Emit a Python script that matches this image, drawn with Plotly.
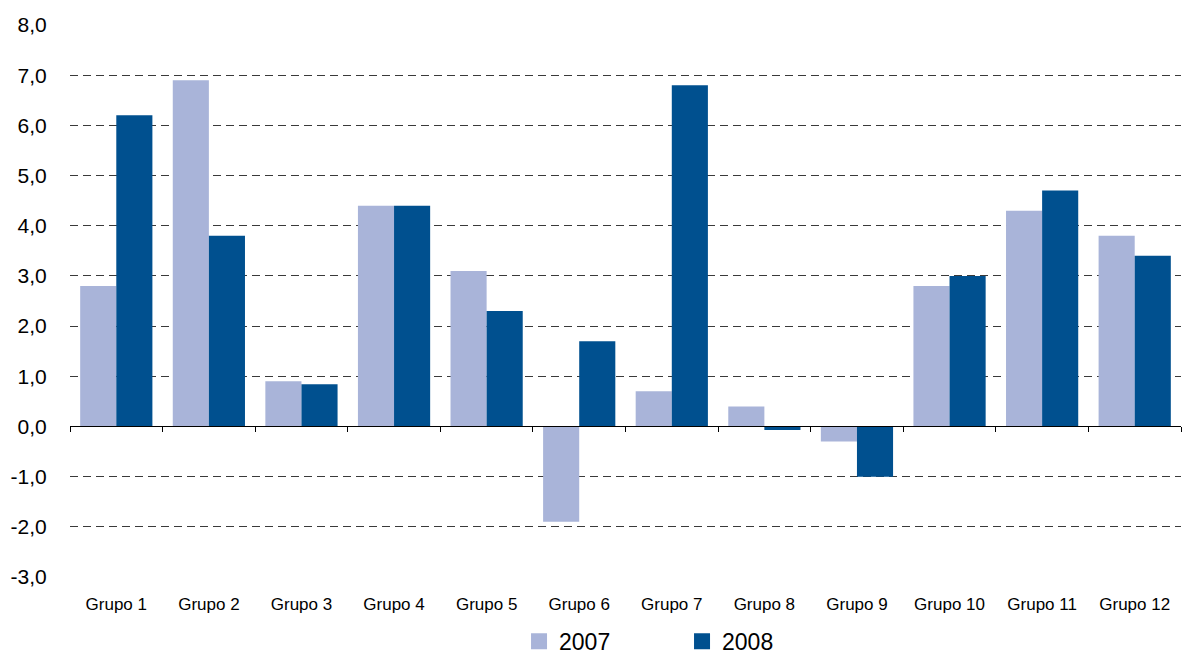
import plotly.graph_objects as go

categories = ["Grupo 1", "Grupo 2", "Grupo 3", "Grupo 4", "Grupo 5", "Grupo 6",
              "Grupo 7", "Grupo 8", "Grupo 9", "Grupo 10", "Grupo 11", "Grupo 12"]
values_2007 = [2.8, 6.9, 0.9, 4.4, 3.1, -1.9, 0.7, 0.4, -0.3, 2.8, 4.3, 3.8]
values_2008 = [6.2, 3.8, 0.84, 4.4, 2.3, 1.7, 6.8, -0.07, -1.0, 3.0, 4.7, 3.4]
grid_vals = [-2, -1, 0, 1, 2, 3, 4, 5, 6, 7, 8]
label_vals = [-3, -2, -1, 0, 1, 2, 3, 4, 5, 6, 7, 8]
label_text = ["-3,0", "-2,0", "-1,0", "0,0", "1,0", "2,0", "3,0", "4,0", "5,0", "6,0", "7,0", "8,0"]

FONT = "Liberation Sans, Arial, sans-serif"
C2007 = "#A9B4D9"
C2008 = "#00508F"

fig = go.Figure()
fig.add_trace(go.Bar(name="2007", x=categories, y=values_2007, marker_color=C2007,
                     marker_line_width=0, showlegend=False))
fig.add_trace(go.Bar(name="2008", x=categories, y=values_2008, marker_color=C2008,
                     marker_line_width=0, showlegend=False))
# legend-only entries with larger square swatches
for nm, col in (("2007", C2007), ("2008", C2008)):
    fig.add_trace(go.Scatter(name=nm, x=[categories[0]], y=[None], mode="markers",
                             marker=dict(symbol="square", size=16, color=col),
                             hoverinfo="skip"))
# helper trace for the zero axis with category ticks and the y labels
fig.add_trace(go.Scatter(x=categories, y=[None] * len(categories), xaxis="x2", yaxis="y2",
                         showlegend=False, hoverinfo="skip", mode="markers"))

fig.update_layout(
    width=1185, height=657,
    margin=dict(l=70, r=4, t=25, b=80),
    paper_bgcolor="white", plot_bgcolor="white",
    barmode="group", bargap=0.22, bargroupgap=0,
    font=dict(family=FONT, color="#000000"),
    xaxis=dict(range=[-0.5, 11.5], showline=False, showgrid=False, zeroline=False,
               ticks="outside", ticklen=12, tickcolor="rgba(0,0,0,0)", automargin=False,
               tickfont=dict(size=17, family=FONT)),
    yaxis=dict(range=[-3, 8], tickmode="array", tickvals=grid_vals, showticklabels=False,
               showgrid=True, gridcolor="#3a3a3a", gridwidth=1, griddash="8px,5px",
               zeroline=False, showline=False, ticks="", automargin=False),
    xaxis2=dict(overlaying="x", anchor="free", position=3 / 11, range=[-0.5, 11.5],
                showline=True, linecolor="#000000", linewidth=1,
                ticks="outside", tickson="boundaries", ticklen=5, tickcolor="#000000",
                showticklabels=False, showgrid=False, zeroline=False, automargin=False),
    yaxis2=dict(overlaying="y", side="left", range=[-3, 8], tickmode="array",
                tickvals=label_vals, ticktext=label_text, showgrid=False, zeroline=False,
                showline=False, ticks="outside", ticklen=18, tickcolor="rgba(0,0,0,0)",
                automargin=False, tickfont=dict(size=21, family=FONT)),
    legend=dict(orientation="h", xref="container", yref="container",
                x=0.438, xanchor="left", y=0.024, yanchor="middle",
                font=dict(size=23, family=FONT), entrywidth=118, entrywidthmode="pixels",
                bgcolor="rgba(0,0,0,0)", traceorder="normal", itemsizing="trace"),
    showlegend=True,
)

fig.write_html("out.html", config={"displayModeBar": False},
               post_script="document.body.style.margin='0';")
